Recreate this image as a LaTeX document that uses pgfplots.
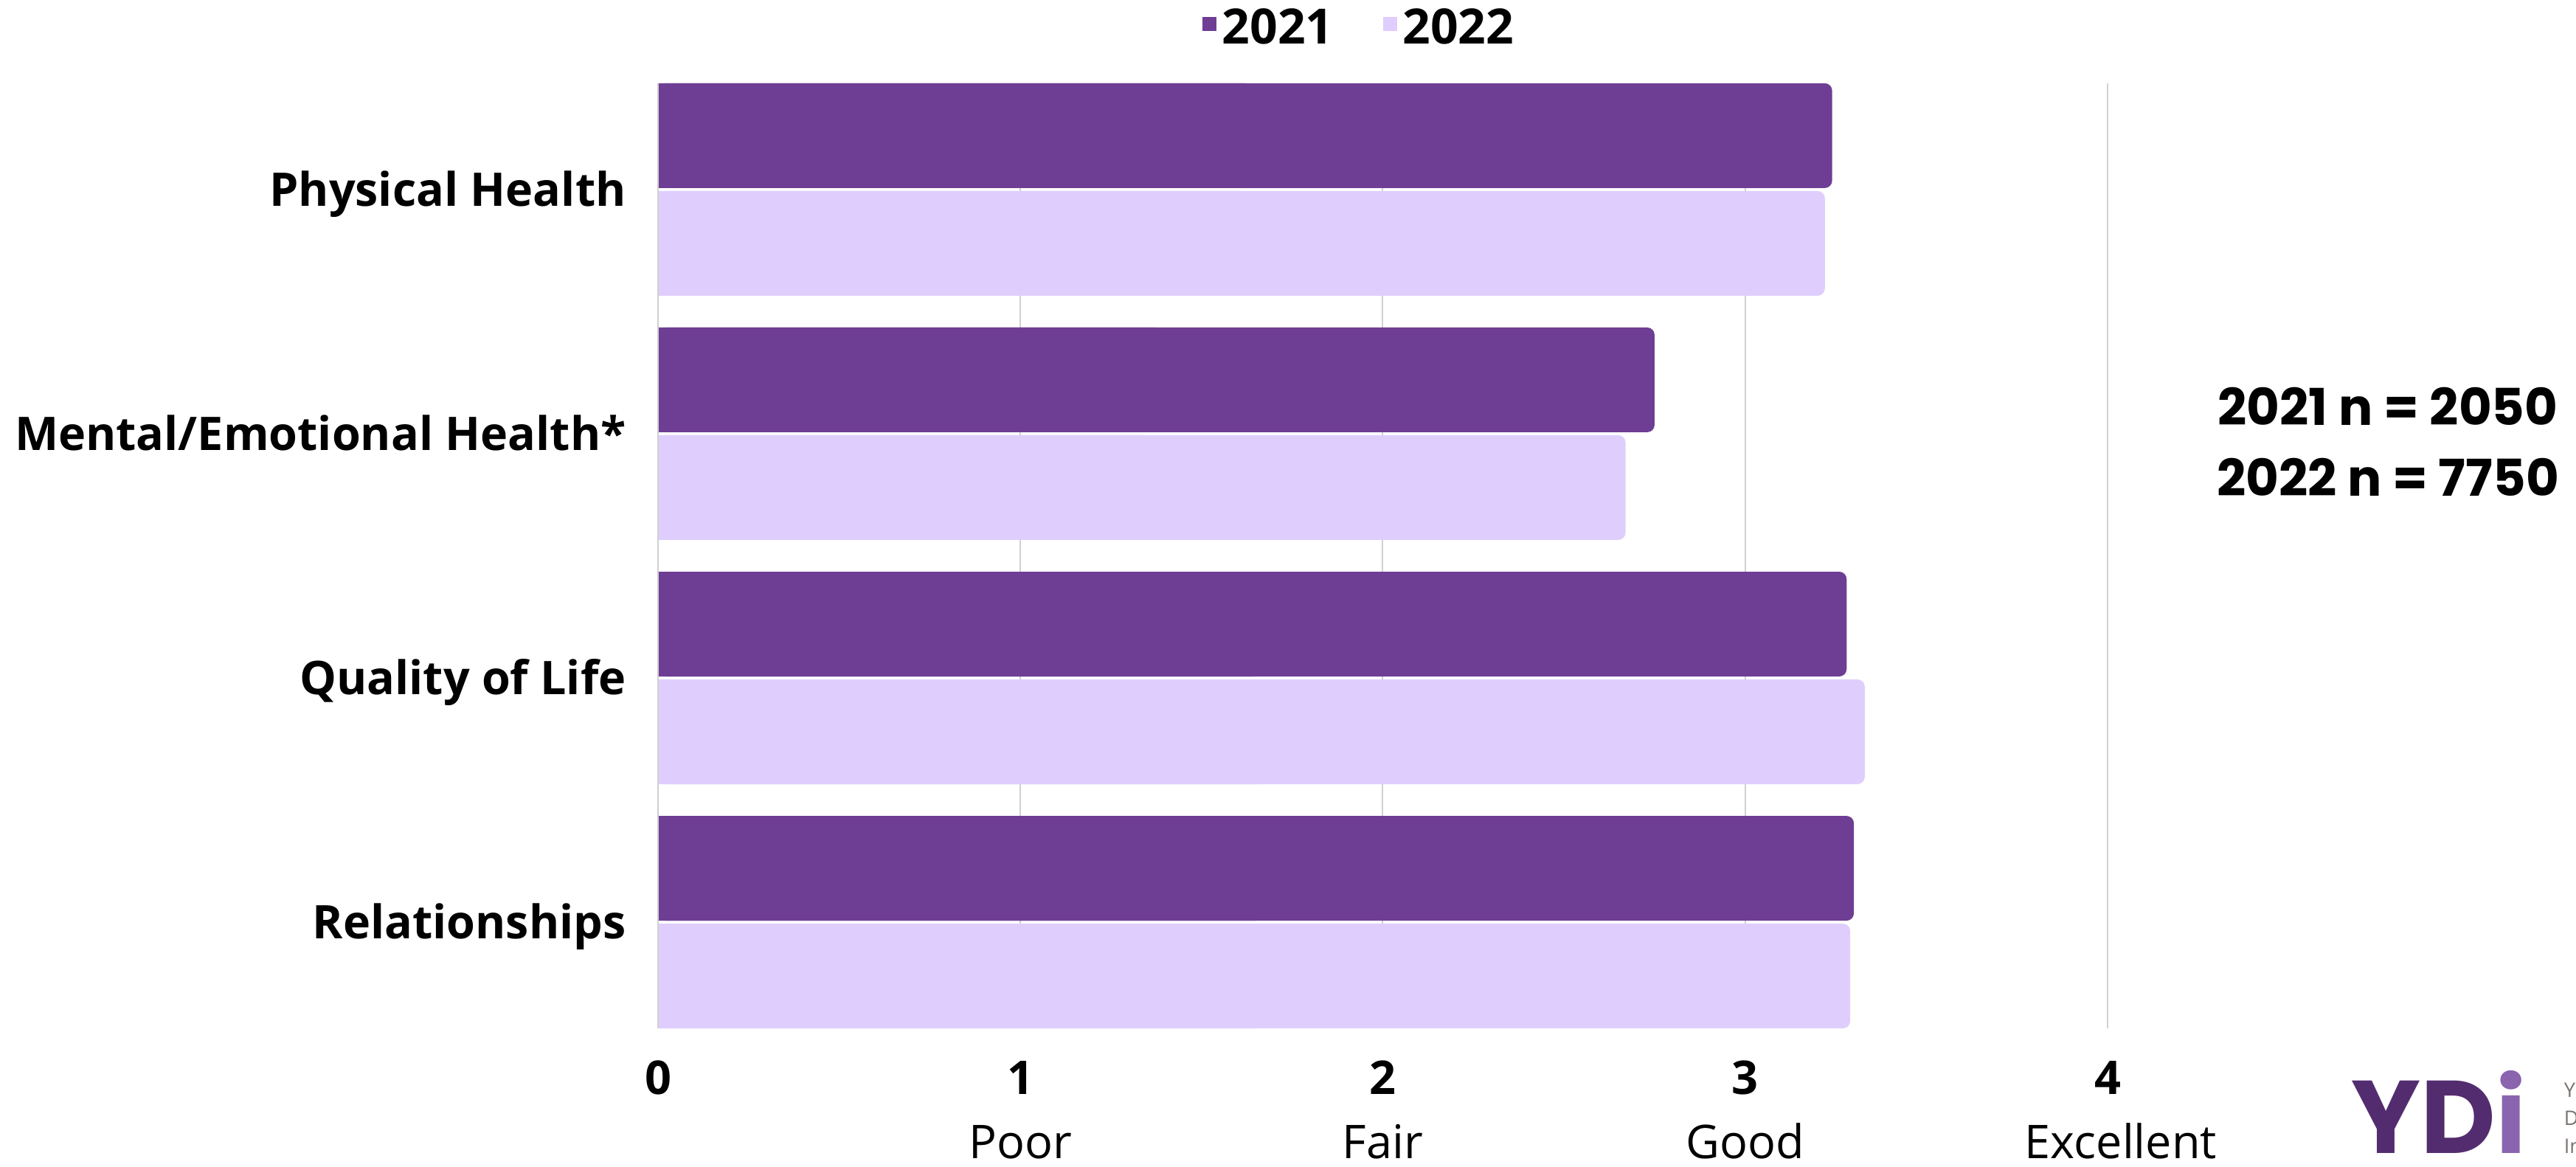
\documentclass[border=0pt]{standalone}
\usepackage{fontspec}
\setmainfont{Open Sans}
\newfontfamily\pop{Poppins}
\usepackage{pgfplots}
\usepackage{pgfplotstable}
\pgfplotsset{compat=1.18}
\definecolor{c21}{HTML}{6E3D94}
\definecolor{c22}{HTML}{DFCEFD}
\definecolor{gridc}{HTML}{D0D0D0}
\definecolor{ydidark}{HTML}{532C6F}
\definecolor{ydilight}{HTML}{8A64AE}
\definecolor{ydigray}{HTML}{7A7470}

\pgfplotstableread{
cat v21 v22
0 3.24 3.22
1 2.75 2.67
2 3.28 3.33
3 3.30 3.29
}\data

\begin{document}
\begin{tikzpicture}
\begin{axis}[
  scale only axis, width=491.25pt, height=320.25pt,
  xmin=0, xmax=4, ymin=-0.4347, ymax=3.4347, y dir=reverse,
  xbar, bar width=35.5pt,
  axis line style={draw=none},
  major tick length=0pt,
  xtick={0,1,2,3,4},
  xticklabels={{\bfseries 0\\\strut},{\bfseries 1\\Poor},{\bfseries 2\\Fair},{\bfseries 3\\Good},{\bfseries 4\\\hspace*{9pt}Excellent}},
  xticklabel style={font=\fontsize{15.75pt}{21.75pt}\selectfont, align=center, anchor=north, yshift=-7.5pt},
  ytick={0,1,2,3},
  yticklabels={Physical Health,Mental/Emotional Health*,Quality of Life,Relationships},
  yticklabel style={font=\fontsize{15.7pt}{19pt}\selectfont\bfseries, anchor=base east, xshift=-7.3pt, yshift=-5.6pt},
  xmajorgrids, major grid style={gridc, line width=0.5pt},
  legend columns=2,
  legend style={at={(axis description cs:0.485,1.058)}, anchor=center, draw=none, fill=none,
    font=\fontsize{16.5pt}{19pt}\selectfont\bfseries,
    /tikz/every even column/.append style={column sep=14.75pt}},
  legend image code/.code={\fill[#1,draw=none,sharp corners] (0pt,-0.9pt) rectangle (4.75pt,3.85pt);},
  clip=false,
]
\addplot[fill=c21, draw=none, bar shift=18.25pt, rounded corners=2.5pt] table[x=v21,y=cat]{\data};
\addplot[fill=c22, draw=none, bar shift=-18.25pt, rounded corners=2.5pt] table[x=v22,y=cat]{\data};
\addplot[forget plot, fill=c21, draw=none, bar shift=18.25pt] table[x expr=\thisrow{v21}/2,y=cat]{\data};
\addplot[forget plot, fill=c22, draw=none, bar shift=-18.25pt] table[x expr=\thisrow{v22}/2,y=cat]{\data};
\legend{2021,2022}
\draw[gridc, line width=0.5pt] (axis description cs:0,0) -- (axis description cs:0,1);
\coordinate (sw) at (axis description cs:0,0);
\coordinate (ne) at (axis description cs:1,1);
\node[anchor=base, font=\pop\bfseries\fontsize{17.2pt}{20pt}\selectfont] at (axis description cs:1.1934,0.6378) {2021 n = 2050};
\node[anchor=base, font=\pop\bfseries\fontsize{17.2pt}{20pt}\selectfont] at (axis description cs:1.1934,0.5636) {2022 n = 7750};
\node[anchor=base west, inner sep=0pt, font=\pop\bfseries\fontsize{35pt}{36pt}\selectfont] at (axis description cs:1.168,-0.132) {\textcolor{ydidark}{Y}\textcolor{ydidark}{D}\textcolor{ydilight}{i}};
\node[anchor=base west, inner sep=0pt, text=ydigray, font=\fontsize{6.8pt}{8pt}\selectfont] at (axis description cs:1.3145,-0.0726) {Y};
\node[anchor=base west, inner sep=0pt, text=ydigray, font=\fontsize{6.8pt}{8pt}\selectfont] at (axis description cs:1.3145,-0.1023) {D};
\node[anchor=base west, inner sep=0pt, text=ydigray, font=\fontsize{6.8pt}{8pt}\selectfont] at (axis description cs:1.3145,-0.132) {In};
\end{axis}
\pgfresetboundingbox
\path[use as bounding box] ([shift={(-223pt,-47pt)}]sw) rectangle ([shift={(158.75pt,28.25pt)}]ne);
\end{tikzpicture}
\end{document}
